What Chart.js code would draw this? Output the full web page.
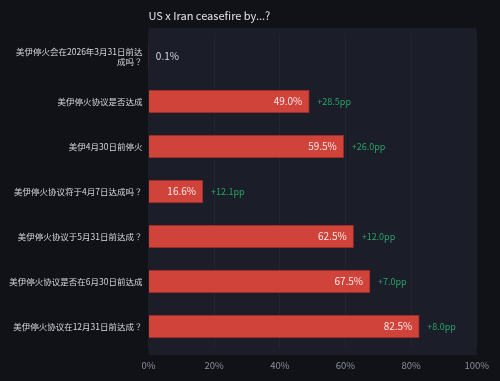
<!DOCTYPE html>
<html>
<head>
<meta charset="utf-8">
<script src="https://cdn.jsdelivr.net/npm/chart.js@4"></script>
<style>
  html, body { margin: 0; padding: 0; background: #111217; }
  canvas { display: block; }
</style>
</head>
<body>
<canvas id="chart" width="500" height="381"></canvas>
<script>
// chart data
var categories = [
    ["美伊停火会在2026年3月31日前达", "成吗？"],
    "美伊停火协议是否达成",
    "美伊4月30日前停火",
    "美伊停火协议将于4月7日达成吗？",
    "美伊停火协议于5月31日前达成？",
    "美伊停火协议是否在6月30日前达成",
    "美伊停火协议在12月31日前达成？"
];
var probabilities = [0.1, 49.0, 59.5, 16.6, 62.5, 67.5, 82.5];
var changes = [null, 28.5, 26.0, 12.1, 12.0, 7.0, 8.0];
var xTicks = [0, 20, 40, 60, 80, 100];

var FONT = '"Noto Sans CJK JP", "Noto Sans CJK SC", "Noto Sans", sans-serif';
Chart.defaults.font.family = FONT;

// page + plot backgrounds
var bgPlugin = {
    id: 'bg',
    beforeDraw: function(chart) {
        var c = chart.ctx, a = chart.chartArea;
        c.save();
        c.fillStyle = '#111217';
        c.fillRect(0, 0, chart.width, chart.height);
        c.fillStyle = '#1b1d28';
        c.fillRect(a.left, a.top - 6, a.right - a.left, a.bottom - a.top + 12);
        c.restore();
    }
};

// value + change labels next to each bar
var labelPlugin = {
    id: 'barLabels',
    afterDatasetsDraw: function(chart) {
        var c = chart.ctx;
        var bars = chart.getDatasetMeta(0).data;
        c.save();
        c.textBaseline = 'middle';
        bars.forEach(function(bar, i) {
            var v = probabilities[i];
            var txt = v.toFixed(1) + '%';
            c.font = '10px ' + FONT;
            if (v > 5) {
                c.fillStyle = '#f6e9e8';
                c.textAlign = 'right';
                c.fillText(txt, bar.x - 7, bar.y);
            } else {
                c.fillStyle = '#d8d9de';
                c.textAlign = 'left';
                c.fillText(txt, bar.x + 7, bar.y);
            }
            if (changes[i] !== null) {
                c.font = '9px ' + FONT;
                c.fillStyle = '#27a567';
                c.textAlign = 'left';
                c.fillText('+' + changes[i].toFixed(1) + 'pp', bar.x + 8, bar.y);
            }
        });
        c.restore();
    }
};

var ctx = document.getElementById("chart");
var chart = new Chart(ctx, {
    type: 'bar',
    data: {
        labels: categories,
        datasets: [{
            data: probabilities,
            backgroundColor: '#d0433a',
            borderColor: 'rgba(150, 42, 36, 0.9)',
            borderWidth: 1,
            borderSkipped: 'left',
            barThickness: 23
        }]
    },
    options: {
        indexAxis: 'y',
        responsive: false,
        animation: false,
        layout: {
            padding: { left: 0, right: 21.5, top: 0, bottom: 0 }
        },
        plugins: {
            legend: { display: false },
            tooltip: { enabled: false },
            title: {
                display: true,
                text: 'US x Iran ceasefire by...?',
                align: 'start',
                fullSize: false,
                color: '#e4e5e8',
                font: { size: 11, weight: 'normal' },
                padding: { top: 9, bottom: 11.8 }
            }
        },
        scales: {
            x: {
                min: 0,
                max: 100,
                afterFit: function(s) { s.height = 32; },
                afterBuildTicks: function(s) {
                    s.ticks = xTicks.map(function(v) { return { value: v }; });
                },
                grid: {
                    color: 'rgba(255, 255, 255, 0.035)',
                    drawTicks: false
                },
                border: { display: false },
                ticks: {
                    color: '#8a8f9a',
                    font: { size: 9.5 },
                    padding: 11,
                    callback: function(v) { return v + '%'; }
                }
            },
            y: {
                afterFit: function(s) { s.width = 148.5; },
                grid: { display: false, drawTicks: false },
                border: { display: false },
                ticks: {
                    color: '#d6d7db',
                    font: { size: 8.5, lineHeight: 1.2 },
                    padding: 6
                }
            }
        }
    },
    plugins: [bgPlugin, labelPlugin]
});
</script>
</body>
</html>
